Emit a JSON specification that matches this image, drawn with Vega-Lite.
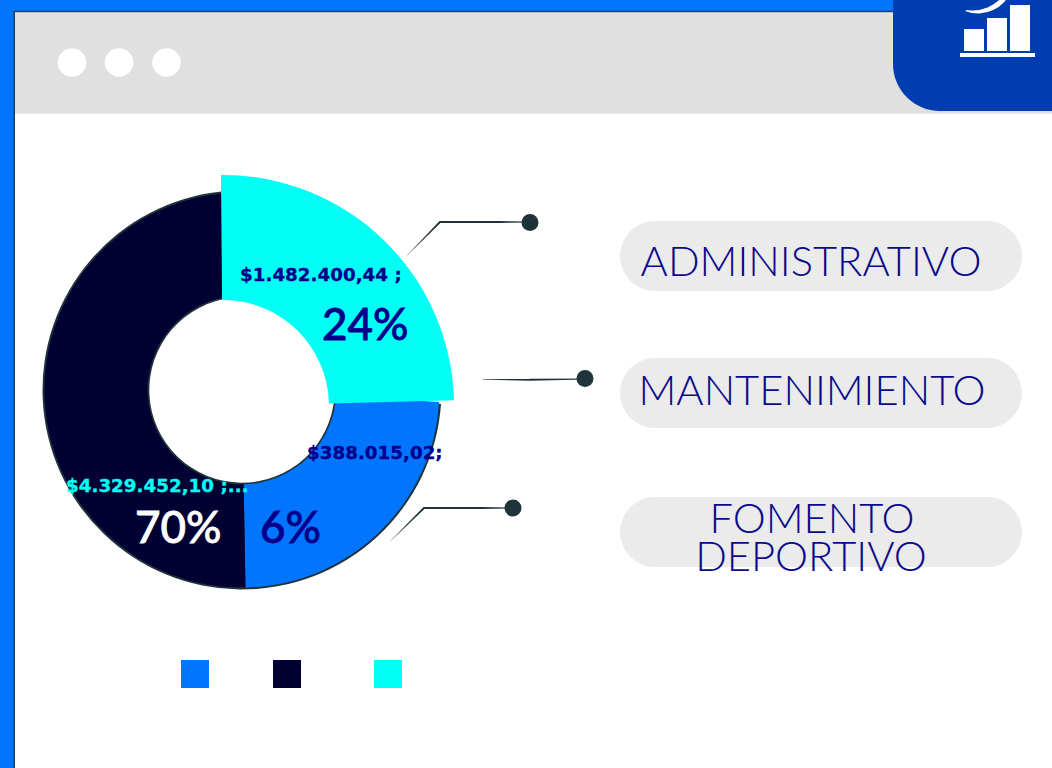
{
"$schema":"https://vega.github.io/schema/vega-lite/v6.json",
"width":1052,"height":768,"padding":0,"autosize":{"type":"none"},"background":"#ffffff",
"config":{"view":{"stroke":null},"axis":{"domain":false}},
"datasets":{
"frame":[{"x":0,"x2":1052,"y":0,"y2":768}],
"edge":[{"x":13.5,"x2":1052,"y":10.7,"y2":768}],
"page":[{"x":15,"x2":1052,"y":12.5,"y2":768}],
"header":[{"x":15,"x2":1052,"y":12.5,"y2":113.7}],
"corner":[{"x":893,"x2":1052,"y":0,"y2":111}],
"icon":[{"x":964,"x2":984,"y":29,"y2":51},{"x":987,"x2":1007,"y":18,"y2":51},{"x":1010,"x2":1030,"y":5,"y2":51},{"x":960,"x2":1035,"y":53,"y2":57}],
"dots":[{"x":72,"y":62.5},{"x":119,"y":62.5},{"x":166.5,"y":62.5}],
"pills":[{"x":620,"x2":1022,"y":221,"y2":291,"name":"ADMINISTRATIVO"},{"x":620,"x2":1022,"y":358,"y2":428,"name":"MANTENIMIENTO"},{"x":620,"x2":1022,"y":497,"y2":567,"name":"FOMENTO DEPORTIVO"}],
"ring":[{"x":242,"y":390,"start":94,"end":354}],
"slices":[{"categoria":"FOMENTO DEPORTIVO","x":242,"y":390,"start":93.5,"end":179},{"categoria":"MANTENIMIENTO","x":242,"y":390,"start":179,"end":354}],
"cyan":[{"categoria":"ADMINISTRATIVO","x":223,"y":406,"start":-0.5,"end":88.6}],
"lines":[
{"id":"a","o":1,"x":407,"y":255.5,"w":0.3},{"id":"a","o":2,"x":440,"y":222,"w":2},{"id":"a","o":3,"x":500,"y":222,"w":2},{"id":"a","o":4,"x":530,"y":222,"w":1},
{"id":"b","o":1,"x":483,"y":379.5,"w":0.3},{"id":"b","o":2,"x":530,"y":379.8,"w":2},{"id":"b","o":3,"x":585,"y":379,"w":1.2},
{"id":"c","o":1,"x":390,"y":541.5,"w":0.3},{"id":"c","o":2,"x":424,"y":508,"w":2},{"id":"c","o":3,"x":480,"y":508,"w":2},{"id":"c","o":4,"x":513,"y":508,"w":1}],
"ends":[{"x":530,"y":222.5},{"x":585,"y":378.5},{"x":513,"y":508}],
"swatches":[{"x":181,"x2":209,"y":660,"y2":688,"categoria":"FOMENTO DEPORTIVO"},{"x":273,"x2":301,"y":660,"y2":688,"categoria":"MANTENIMIENTO"},{"x":374,"x2":402,"y":660,"y2":688,"categoria":"ADMINISTRATIVO"}]
},
"encoding":{
"x":{"field":"x","type":"quantitative","scale":{"domain":[0,1052],"nice":false,"zero":false},"axis":null},
"y":{"field":"y","type":"quantitative","scale":{"domain":[768,0],"nice":false,"zero":false},"axis":null}
},
"layer":[
{"data":{"name":"frame"},"mark":{"type":"rect","color":"#0075ff"},"encoding":{"x2":{"field":"x2"},"y2":{"field":"y2"}}},
{"data":{"name":"edge"},"mark":{"type":"rect","color":"#1f4058"},"encoding":{"x2":{"field":"x2"},"y2":{"field":"y2"}}},
{"data":{"name":"page"},"mark":{"type":"rect","color":"#ffffff"},"encoding":{"x2":{"field":"x2"},"y2":{"field":"y2"}}},
{"data":{"name":"header"},"mark":{"type":"rect","color":"#e0e0e0"},"encoding":{"x2":{"field":"x2"},"y2":{"field":"y2"}}},
{"data":{"name":"dots"},"mark":{"type":"arc","color":"#ffffff","outerRadius":14.3,"innerRadius":0,"theta":0,"theta2":6.2832},"encoding":{}},
{"data":{"name":"corner"},"mark":{"type":"rect","color":"#003db0","cornerRadiusBottomLeft":47},"encoding":{"x2":{"field":"x2"},"y2":{"field":"y2"}}},
{"data":{"values":[{"x":978,"y":-22}]},"mark":{"type":"arc","color":"#ffffff","outerRadius":35.5,"innerRadius":0,"theta":1.9,"theta2":3.5},"encoding":{}},
{"data":{"values":[{"x":972,"y":-30}]},"mark":{"type":"arc","color":"#003db0","outerRadius":40.5,"innerRadius":0,"theta":0,"theta2":6.2832},"encoding":{}},
{"data":{"name":"icon"},"mark":{"type":"rect","color":"#ffffff"},"encoding":{"x2":{"field":"x2"},"y2":{"field":"y2"}}},
{"data":{"name":"pills"},"mark":{"type":"rect","color":"#ebebeb","cornerRadius":35},"encoding":{"x2":{"field":"x2"},"y2":{"field":"y2"}}},
{"data":{"values":[{"x":811,"y":276,"t":"ADMINISTRATIVO"},{"x":812,"y":405,"t":"MANTENIMIENTO"},{"x":812,"y":533,"t":"FOMENTO"},{"x":811,"y":571,"t":"DEPORTIVO"}]},
 "mark":{"type":"text","font":"Lato","fontWeight":300,"fontSize":41.7,"align":"center","baseline":"alphabetic","color":"#0a0a8c"},"encoding":{"text":{"field":"t"}}},
{"data":{"name":"ring"},"mark":{"type":"arc","outerRadius":199.5,"innerRadius":92.7,"color":"#1f333a"},
 "encoding":{"theta":{"field":"start","type":"quantitative","stack":null,"scale":{"domain":[0,360],"range":[0,6.28319]}},"theta2":{"field":"end"}}},
{"data":{"name":"slices"},"mark":{"type":"arc","outerRadius":197.6,"innerRadius":94.4},
 "encoding":{"theta":{"field":"start","type":"quantitative","stack":null,"scale":{"domain":[0,360],"range":[0,6.28319]}},"theta2":{"field":"end"},
 "color":{"field":"categoria","type":"nominal","legend":null,"scale":{"domain":["FOMENTO DEPORTIVO","MANTENIMIENTO","ADMINISTRATIVO"],"range":["#0075ff","#000033","#00fff4"]}}}},
{"data":{"name":"cyan"},"mark":{"type":"arc","outerRadius":231,"innerRadius":106},
 "encoding":{"theta":{"field":"start","type":"quantitative","stack":null,"scale":{"domain":[0,360],"range":[0,6.28319]}},"theta2":{"field":"end"},
 "color":{"field":"categoria","type":"nominal","legend":null,"scale":{"domain":["FOMENTO DEPORTIVO","MANTENIMIENTO","ADMINISTRATIVO"],"range":["#0075ff","#000033","#00fff4"]}}}},
{"data":{"name":"lines"},"mark":{"type":"trail","color":"#1f333a"},"encoding":{"detail":{"field":"id"},"order":{"field":"o","type":"ordinal"},"size":{"field":"w","type":"quantitative","scale":null}}},
{"data":{"name":"ends"},"mark":{"type":"arc","color":"#1f333a","outerRadius":8.5,"innerRadius":0,"theta":0,"theta2":6.2832},"encoding":{}},
{"data":{"name":"swatches"},"mark":{"type":"rect"},"encoding":{"x2":{"field":"x2"},"y2":{"field":"y2"},
 "color":{"field":"categoria","type":"nominal","legend":null,"scale":{"domain":["FOMENTO DEPORTIVO","MANTENIMIENTO","ADMINISTRATIVO"],"range":["#0075ff","#000033","#00fff4"]}}}},
{"data":{"values":[{"x":240,"y":281,"t":"$1.482.400,44 ;"},{"x":307,"y":459,"t":"$388.015,02;"}]},"mark":{"type":"text","font":"DejaVu Sans","fontWeight":"bold","fontSize":18.3,"align":"left","baseline":"alphabetic","color":"#00008b","stroke":"#00008b","strokeWidth":0.3},"encoding":{"text":{"field":"t"}}},
{"data":{"values":[{"x":66,"y":492,"t":"$4.329.452,10 ;..."}]},"mark":{"type":"text","font":"DejaVu Sans","fontWeight":"bold","fontSize":18.3,"align":"left","baseline":"alphabetic","color":"#00fff4","stroke":"#00fff4","strokeWidth":0.3},"encoding":{"text":{"field":"t"}}},
{"data":{"values":[{"x":322,"y":340,"t":"24%"},{"x":260,"y":543,"t":"6%"}]},"mark":{"type":"text","font":"Lato","fontWeight":500,"fontSize":44,"align":"left","baseline":"alphabetic","color":"#00008b","stroke":"#00008b","strokeWidth":0.8},"encoding":{"text":{"field":"t"}}},
{"data":{"values":[{"x":135,"y":543,"t":"70%"}]},"mark":{"type":"text","font":"Lato","fontWeight":500,"fontSize":44,"align":"left","baseline":"alphabetic","color":"#ffffff","stroke":"#ffffff","strokeWidth":0.8},"encoding":{"text":{"field":"t"}}}
]
}
